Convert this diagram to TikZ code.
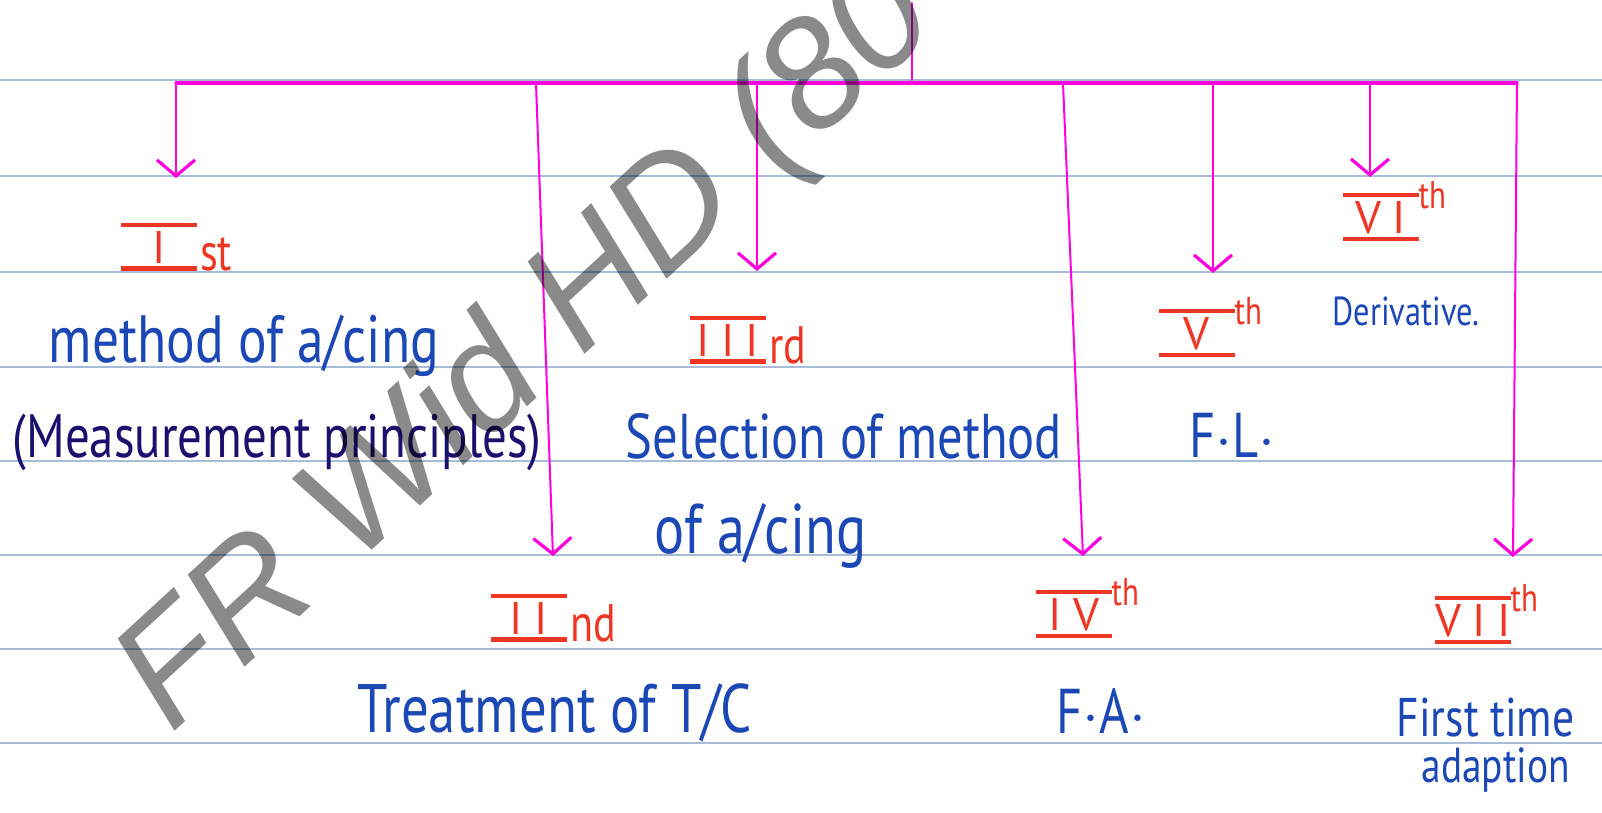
\documentclass[tikz,border=0pt]{standalone}
\usepackage{fontspec}
\setmainfont{PT Sans}
\newfontfamily\handfont[FakeStretch=0.8]{PT Sans}
\newfontfamily\romfont[LetterSpace=25]{PT Sans}
\newfontfamily\wmfont{Liberation Sans}
\usepackage{tikz}
\usetikzlibrary{arrows.meta}
\usepackage{xcolor}
\definecolor{ink}{RGB}{28,72,182}
\definecolor{navy}{RGB}{26,16,110}
\definecolor{numred}{RGB}{238,54,36}
\definecolor{pink}{RGB}{255,0,222}
\definecolor{ruled}{RGB}{168,188,217}

% roman numeral between two bars, then its ending
\newlength\romw
\newcommand\rom[1]{\setbox0\hbox{\romfont#1}\romw=\wd0 \advance\romw by 3mm
  \ifdim\romw<7.6mm \romw=7.6mm\fi
  \vbox{\hrule height 1.3pt\kern1.2pt\hbox to\romw{\hss\romfont#1\hss}\kern0.8pt\hrule height 1.3pt}}
\newcommand\ordl[2]{\rom{#1}\kern1pt{\handfont\fontsize{15}{15}\selectfont#2}}
\newcommand\ordh[2]{\rom{#1}\raise 3.3mm\hbox{\handfont\fontsize{11}{11}\selectfont #2}}

\begin{document}
\begin{tikzpicture}[x=0.1mm,y=-0.1mm,line cap=round,
  ruled/.style={draw=ruled,line width=0.25mm},
  bus/.style={draw=pink,line width=0.32mm},
  branch/.style={draw=pink,line width=0.2mm,-{Straight Barb[length=1.6mm,width=3.8mm,line width=0.32mm]}},
  numlabel/.style={text=numred,inner sep=0,anchor=south west,font=\fontsize{13}{13}\selectfont},
  hand/.style={text=ink,inner sep=0,anchor=base west,font=\handfont\fontsize{18}{21}\selectfont},
  wmark/.style={text=black,text opacity=0.46,inner sep=0,anchor=base west,font=\wmfont\itshape\fontsize{44}{44}\selectfont}]
\useasboundingbox (0,0) rectangle (1602,813);
\clip (0,0) rectangle (1602,813);
\fill[white] (0,0) rectangle (1602,813);
% ruled paper
\foreach \y in {80,176,272,367,461,555,649,743}
  \draw[ruled] (0,\y) -- (1602,\y);

% bus and its branches
\coordinate (top) at (912,3);
\coordinate (hub) at (912,80);
\coordinate (b1) at (176,83);
\coordinate (b2) at (536,83);
\coordinate (b3) at (757,83);
\coordinate (b4) at (1063,83);
\coordinate (b5) at (1213,83);
\coordinate (b6) at (1370,83);
\coordinate (b7) at (1517,83);
\coordinate (t1) at (176,178);
\coordinate (t2) at (553,556);
\coordinate (t3) at (757,271);
\coordinate (t4) at (1083,556);
\coordinate (t5) at (1213,273);
\coordinate (t6) at (1370,177);
\coordinate (t7) at (1513,557);
\draw[pink,line width=0.2mm] (top) -- (hub);
\draw[bus] (b1) -- (b7);
\draw[branch] (b1) -- (t1);
\draw[branch] (b2) -- (t2);
\draw[branch] (b3) -- (t3);
\draw[branch] (b4) -- (t4);
\draw[branch] (b5) -- (t5);
\draw[branch] (b6) -- (t6);
\draw[branch] (b7) -- (t7);

% numbered heads
\node[numlabel] (n1) at (120,272) {\ordl{I}{st}};
\node[numlabel] (n2) at (490,643) {\ordl{II}{nd}};
\node[numlabel] (n3) at (689,365) {\ordl{III}{rd}};
\node[numlabel] (n4) at (1035,639) {\ordh{IV}{th}};
\node[numlabel] (n5) at (1158,358) {\ordh{V}{th}};
\node[numlabel] (n6) at (1342,242) {\ordh{VI}{th}};
\node[numlabel] (n7) at (1434,645) {\ordh{VII}{th}};

% what each one covers
\node[hand,font=\handfont\fontsize{19}{22}\selectfont] (p1) at (48,362) {method of a/cing};
\node[hand,text=navy,font=\handfont\fontsize{17.4}{20}\selectfont] (p1b) at (12,457) {(Measurement principles)};
\node[hand,font=\handfont\fontsize{19.5}{22}\selectfont] (p2) at (357,732) {Treatment of T/C};
\node[hand] (p3) at (625,458) {Selection of method};
\node[hand,font=\handfont\fontsize{20}{22}\selectfont] (p3b) at (654,553) {of a/cing};
\node[hand] (p4) at (1056,733) {F$\cdot$A$\cdot$};
\node[hand] (p5) at (1189,457) {F$\cdot$L$\cdot$};
\node[hand,font=\handfont\fontsize{11.5}{13}\selectfont] (p6) at (1332,325) {Derivative.};
\node[hand,font=\handfont\fontsize{15.5}{18}\selectfont] (p7) at (1396,736) {First time};
\node[hand,font=\handfont\fontsize{14}{16}\selectfont] (p7b) at (1421,782) {adaption};

\node[wmark,rotate=42.6] (wm) at (171,735) {FR Wid HD (80};
\end{tikzpicture}
\end{document}
